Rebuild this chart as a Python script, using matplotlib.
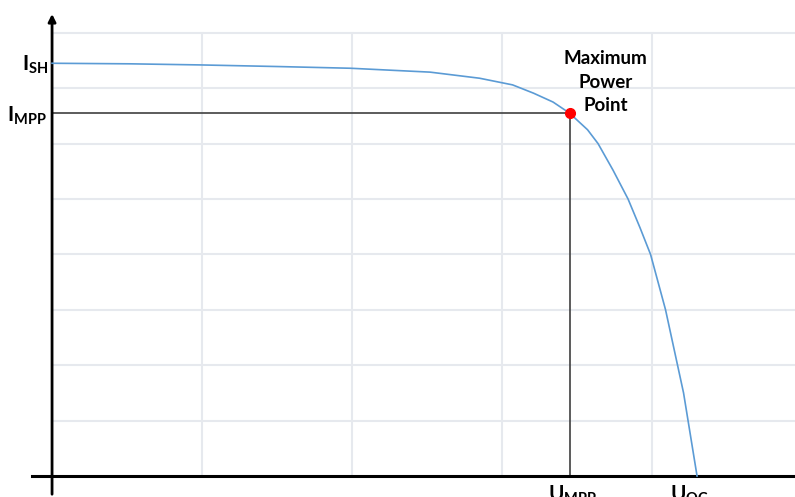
import matplotlib.pyplot as plt

# I-V curve (x in grid units, y in grid units)
voltage = [0.0, 0.52, 0.99, 1.52, 1.99, 2.52, 2.85, 3.07, 3.21, 3.34, 3.45,
           3.57, 3.64, 3.74, 3.84, 3.92, 3.99, 4.04, 4.09, 4.13, 4.17, 4.21,
           4.24, 4.27, 4.30]
current = [7.45, 7.44, 7.42, 7.39, 7.36, 7.29, 7.18, 7.06, 6.91, 6.75, 6.55,
           6.25, 6.00, 5.52, 5.00, 4.48, 4.00, 3.50, 3.00, 2.50, 2.00, 1.50,
           1.00, 0.50, 0.0]

u_mpp, i_mpp = 3.45, 6.55
u_oc = 4.30
i_sh = 7.45

x_grid = [1, 2, 3, 4]
y_grid = [1, 2, 3, 4, 5, 6, 7, 8]

plt.rcParams['mathtext.fontset'] = 'custom'
plt.rcParams['mathtext.rm'] = 'Lato:bold'
plt.rcParams['mathtext.bf'] = 'Lato:bold'

fig = plt.figure(figsize=(7.95, 4.97), dpi=100)
ax = fig.add_axes([0, 0, 1, 1])
x_min, x_max = -0.347, 4.953
y_min, y_max = -0.379, 8.592
ax.set_xlim(x_min, x_max)
ax.set_ylim(y_min, y_max)
ax.axis('off')

grid_color = '#e6e9ee'
for gx in x_grid:
    ax.plot([gx, gx], [0, 8], color=grid_color, lw=1.5, zorder=0)
for gy in y_grid:
    ax.plot([0, x_max], [gy, gy], color=grid_color, lw=1.5, zorder=0)

# axes
ax.plot([-0.133, x_max], [0, 0], color='black', lw=2.2, zorder=3)
ax.annotate('', xy=(0, 8.39), xytext=(0, y_min),
            arrowprops=dict(arrowstyle='-|>', color='black', lw=2, mutation_scale=11),
            zorder=3)

# maximum power point guides
ax.plot([0, u_mpp], [i_mpp, i_mpp], color='#404040', lw=1.2, zorder=2)
ax.plot([u_mpp, u_mpp], [0, i_mpp], color='#404040', lw=1.2, zorder=2)

# curve
ax.plot(voltage, current, color='#5b9bd5', lw=1.2, zorder=4,
        solid_joinstyle='round')
ax.plot([u_mpp], [i_mpp], 'o', color='#ff0000', markersize=7, zorder=5)

ax.text(3.69, 7.11, 'Maximum\nPower\nPoint', ha='center', va='center',
        fontsize=13.5, fontweight='bold', family='Lato', linespacing=1.45)

label_kw = dict(fontsize=15, color='black')
ax.text(-0.115, i_sh - 0.03, r'$\mathrm{I}_{\mathrm{SH}}$', ha='center', va='center', **label_kw)
ax.text(-0.17, i_mpp - 0.05, r'$\mathrm{I}_{\mathrm{MPP}}$', ha='center', va='center', **label_kw)
ax.text(u_mpp + 0.02, -0.13, r'$\mathrm{U}_{\mathrm{MPP}}$', ha='center', va='top', **label_kw)
ax.text(u_oc - 0.05, -0.13, r'$\mathrm{U}_{\mathrm{OC}}$', ha='center', va='top', **label_kw)

fig.savefig('out.png', dpi=100)
